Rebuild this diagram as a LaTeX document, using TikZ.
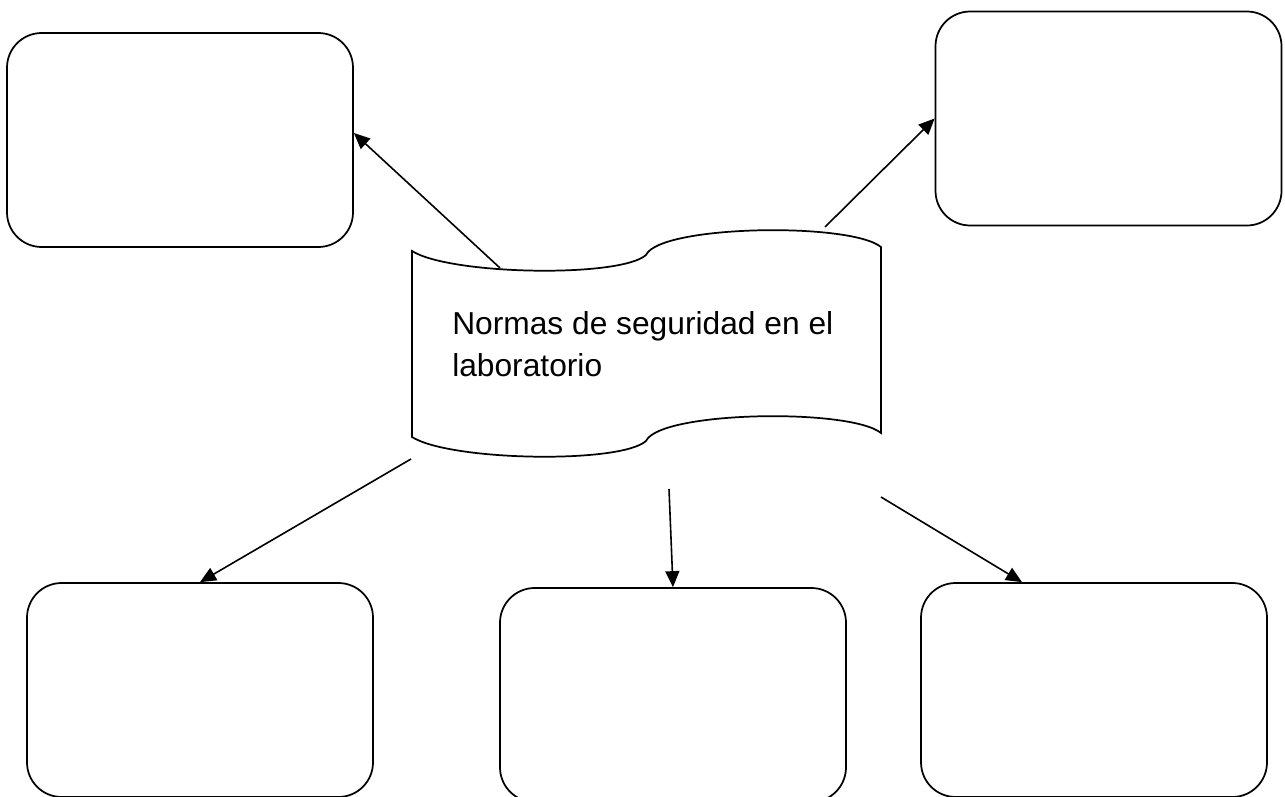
\documentclass[tikz,border=0pt]{standalone}
\usepackage{fontspec}
\setmainfont{Liberation Sans}
\usetikzlibrary{arrows.meta,calc}
\begin{document}
\begin{tikzpicture}[x=0.75pt,y=-0.75pt,
  box/.style={draw,line width=1.3pt,rounded corners=26pt,minimum width=259.5pt,minimum height=160.5pt,inner sep=0pt},
  conn/.style={draw,line width=1.2pt,-{Triangle[length=12pt,width=10.5pt]}},
  wave/.style={draw,line width=1.3pt}]
\useasboundingbox (0,0) rectangle (1285,796);
\node[box] (tl) at (180,140) {};
\node[box] (tr) at (1108.5,118.5) {};
\node[box] (bl) at (200,690) {};
\node[box] (bm) at (673,695) {};
\node[box] (br) at (1094,690) {};
\path[wave] (412,251) .. controls (450,275) and (620,278) .. (646,255)
  .. controls (660,225) and (850,222) .. (881,247) -- (881,433)
  .. controls (850,408) and (660,411) .. (646,441)
  .. controls (620,464) and (450,461) .. (412,437) -- cycle;
\node[anchor=base west,align=left,inner sep=0pt,font=\fontsize{23.8pt}{31.5pt}\selectfont] (title) at (452,376) {Normas de seguridad en el\\laboratorio};
\coordinate (s1) at (500,268);
\coordinate (s2) at (825,227);
\coordinate (s3) at (411,459);
\coordinate (s4) at (669,489);
\coordinate (s5) at (881,497);
\draw[conn] (s1) -- ($(tl.east)+(0,-7)$);
\draw[conn] (s2) -- (tr.west);
\draw[conn] (s3) -- (bl.north);
\draw[conn] (s4) -- (bm.north);
\draw[conn] (s5) -- ($(br.north)+(-72,0)$);
\end{tikzpicture}
\end{document}
